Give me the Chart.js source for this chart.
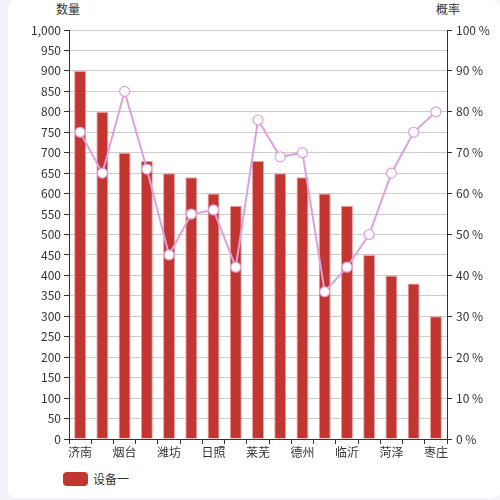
<!DOCTYPE html>
<html>
<head>
<meta charset="utf-8">
<script src="https://cdn.jsdelivr.net/npm/chart.js@4/dist/chart.umd.min.js"></script>
<style>
  body { margin: 0; background: #f2f3f8; font-family: "Noto Sans CJK SC", "Noto Sans", sans-serif; }
  #card { position: absolute; left: 8px; top: 0; width: 492px; height: 498px; background: #fff; border-radius: 8px; }
  #wrap { position: absolute; left: 0; top: 0; width: 492px; height: 461px; }
  .title { position: absolute; top: 0; font-size: 12px; color: #333; width: 40px; text-align: center; }
  #legend { position: absolute; left: 55px; top: 470px; font-size: 12px; color: #333; display: flex; align-items: center; }
  #legend span.box { display: inline-block; width: 25px; height: 14px; border-radius: 4px; background: #c23531; margin-right: 5px; }
</style>
</head>
<body>
<div id="card">
  <div class="title" style="left:40px">数量</div>
  <div class="title" style="left:420px">概率</div>
  <div id="wrap"><canvas id="myChart"></canvas></div>
  <div id="legend"><span class="box"></span>设备一</div>
</div>
<script>
const cities = ['济南', '青岛', '烟台', '淄博', '潍坊', '东营', '日照', '威海', '莱芜',
  '泰安', '德州', '济宁', '临沂', '滨州', '菏泽', '聊城', '枣庄'];
const counts = [900, 800, 700, 680, 650, 640, 600, 570, 680, 650, 640, 600, 570, 450, 400, 380, 300];
const rates = [75, 65, 85, 66, 45, 55, 56, 42, 78, 69, 70, 36, 42, 50, 65, 75, 80];

const textColor = '#333';
const font = { family: '"Noto Sans CJK SC", "Noto Sans", sans-serif', size: 12 };

const ctx = document.getElementById('myChart').getContext('2d');
const chart = new Chart(ctx, {
  data: {
    labels: cities,
    datasets: [{
      type: 'line',
      label: '概率',
      data: rates,
      yAxisID: 'y1',
      order: 0,
      borderColor: '#dda0dd',
      borderWidth: 2,
      tension: 0,
      pointRadius: 5,
      pointHoverRadius: 5,
      pointBackgroundColor: '#fff',
      pointBorderColor: '#dda0dd',
      pointBorderWidth: 1.2
    }, {
      type: 'bar',
      label: '设备一',
      data: counts,
      yAxisID: 'y',
      order: 1,
      backgroundColor: '#c23531',
      borderColor: 'rgba(230,140,140,0.8)',
      borderWidth: 1,
      barPercentage: 0.54,
      categoryPercentage: 1
    }]
  },
  options: {
    responsive: true,
    maintainAspectRatio: false,
    animation: false,
    layout: { padding: { top: 30, left: 0, right: 0, bottom: 0 } },
    plugins: {
      legend: { display: false },
      tooltip: { enabled: false }
    },
    scales: {
      x: {
        offset: true,
        grid: { offset: true, drawOnChartArea: false, tickLength: 5, tickColor: textColor },
        border: { color: textColor },
        ticks: {
          autoSkip: false, maxRotation: 0, color: textColor, font, padding: 1,
          callback: (v, i) => (i % 2 === 0 ? cities[i] : '')
        },
        afterFit: s => { s.height = 22; }
      },
      y: {
        position: 'left',
        min: 0,
        max: 1000,
        grid: { color: '#ccc', tickLength: 5, tickColor: textColor },
        border: { color: textColor },
        ticks: {
          stepSize: 50, color: textColor, font, padding: 3,
          callback: v => v.toLocaleString('en-US')
        },
        afterFit: s => { s.width = 61; }
      },
      y1: {
        position: 'right',
        min: 0,
        max: 100,
        grid: { drawOnChartArea: false, tickLength: 5, tickColor: textColor },
        border: { color: textColor },
        ticks: {
          stepSize: 10, color: textColor, font, padding: 4,
          callback: v => v + ' %'
        },
        afterFit: s => { s.width = 53; }
      }
    }
  }
});
</script>
</body>
</html>
